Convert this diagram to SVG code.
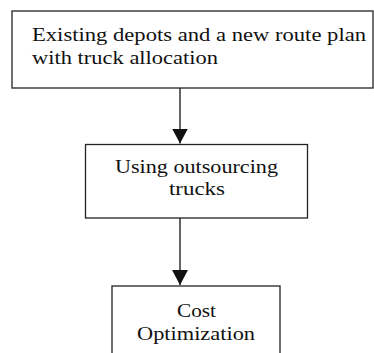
<svg xmlns="http://www.w3.org/2000/svg" width="374" height="353" viewBox="0 0 374 353">
  <defs>
    <marker id="arrow" markerUnits="userSpaceOnUse" markerWidth="15" markerHeight="16" viewBox="0 0 15 16" refX="15" refY="8" orient="auto">
      <path d="M0,0 L15,8 L0,16 Z" fill="#111"/>
    </marker>
    <style>
      .box { fill: #fff; stroke: #222; stroke-width: 1.3; }
      .edge { stroke: #111; stroke-width: 1.3; fill: none; }
      text { font-family: "Liberation Serif", "DejaVu Serif", serif; font-size: 19px; fill: #111; }
      .c { text-anchor: middle; }
    </style>
  </defs>
  <rect width="374" height="353" fill="#fff"/>

  <g id="connectors">
    <line class="edge" x1="180" y1="88" x2="180" y2="143.5" marker-end="url(#arrow)"/>
    <line class="edge" x1="180" y1="218" x2="180" y2="285" marker-end="url(#arrow)"/>
  </g>

  <g id="existing-depots">
    <rect class="box" x="12" y="11" width="361" height="77"/>
    <text x="32" y="41" textLength="334" lengthAdjust="spacingAndGlyphs">Existing depots and a new route plan</text>
    <text x="32" y="63.5" textLength="186" lengthAdjust="spacingAndGlyphs">with truck allocation</text>
  </g>

  <g id="outsourcing-trucks">
    <rect class="box" x="85.5" y="144.5" width="222" height="73.5"/>
    <text class="c" x="196.5" y="173.3" textLength="163" lengthAdjust="spacingAndGlyphs">Using outsourcing</text>
    <text class="c" x="197" y="195.3" textLength="56" lengthAdjust="spacingAndGlyphs">trucks</text>
  </g>

  <g id="cost-optimization">
    <rect class="box" x="112" y="286" width="168" height="90"/>
    <text class="c" x="196.5" y="317.3" textLength="39" lengthAdjust="spacingAndGlyphs">Cost</text>
    <text class="c" x="196" y="339.5" textLength="118" lengthAdjust="spacingAndGlyphs">Optimization</text>
  </g>
</svg>
